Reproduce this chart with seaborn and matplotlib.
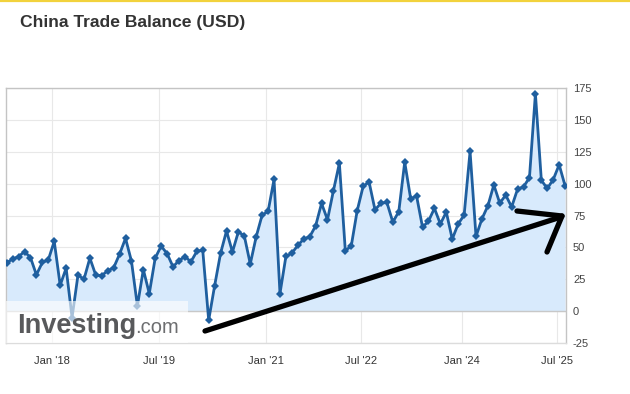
import matplotlib
matplotlib.use("Agg")
import matplotlib.pyplot as plt
import seaborn as sns
import pandas as pd
import numpy as np
from matplotlib.lines import Line2D
from matplotlib.patches import Rectangle

# Monthly China trade balance (USD bn), Apr 2017 .. Jul 2025 (one point per release)
bal_2017 = [38.0, 40.8, 42.8, 46.7, 42.0, 28.5, 38.2, 40.2, 54.7]
bal_2018 = [20.3, 33.7, -5.0, 28.4, 24.9, 41.6, 28.1, 27.9, 31.7, 34.0, 44.7, 57.1]
bal_2019 = [39.2, 4.1, 32.6, 13.8, 41.7, 51.0, 45.1, 34.8, 39.7, 42.8, 38.7, 46.8, 47.7]
bal_2020 = [-7.1, 19.9, 45.3, 62.9, 46.4, 62.3, 58.9, 37.0, 58.4, 75.4, 78.2]
bal_2021 = [103.3, 13.8, 42.9, 45.5, 51.5, 56.6, 58.3, 66.8, 84.5, 71.7, 94.5]
bal_2022 = [116.0, 47.4, 51.1, 78.8, 97.9, 101.3, 79.4, 84.7, 85.2, 69.8, 78.0]
bal_2023 = [116.9, 88.2, 90.2, 65.8, 70.6, 80.6, 68.4, 77.7, 56.5, 68.4, 75.3]
bal_2024 = [125.2, 58.6, 72.4, 82.6, 99.0, 84.7, 91.0, 81.7, 95.7, 97.4, 104.8]
bal_2025 = [170.5, 102.6, 96.2, 103.2, 114.8, 98.2]

x_tick_labels = ["Jan '18", "Jul '19", "Jan '21", "Jul '22", "Jan '24", "Jul '25"]
y_ticks = [-25, 0, 25, 50, 75, 100, 125, 150, 175]

values = bal_2017 + bal_2018 + bal_2019 + bal_2020 + bal_2021 + bal_2022 + bal_2023 + bal_2024 + bal_2025
df = pd.DataFrame({"idx": np.arange(len(values)), "balance": values})

# ordinal axis tick positions (fraction of the way between releases)
x_tick_pos = [7.65, 25.65, 43.65, 59.65, 76.65, 92.65]

sns.set_theme(style="white")
plt.rcParams['font.family'] = ['Liberation Sans', 'DejaVu Sans']

W, H = 630, 394
fig = plt.figure(figsize=(W / 100, H / 100), dpi=100)
ax = fig.add_axes([6 / W, 1 - 343 / H, 560 / W, 255 / H])

line_col = "#1f5f9f"
fill_col = "#d8eafc"

ax.fill_between(df["idx"], df["balance"], 0, color=fill_col, lw=0, zorder=1)
sns.lineplot(data=df, x="idx", y="balance", ax=ax, color=line_col, lw=2.0,
             marker="D", markersize=3.6, markeredgewidth=0, zorder=3)

ax.set_xlim(-0.12, 94.15)
ax.set_ylim(-25, 175)
ax.set_xlabel("")
ax.set_ylabel("")

ax.set_yticks(y_ticks)
ax.set_yticklabels([str(v) for v in y_ticks])
ax.yaxis.tick_right()
ax.tick_params(axis="y", length=0, pad=5, labelsize=8, labelcolor="#444444")
ax.set_xticks(x_tick_pos)
ax.set_xticklabels(x_tick_labels)
ax.tick_params(axis="x", length=0, pad=9, labelsize=8, labelcolor="#333333")

ax.grid(True, color="#e8e8e8", lw=0.8, zorder=0)
ax.set_axisbelow(True)
ax.axhline(0, color="#c8c8c8", lw=1.0, zorder=2)
for side in ["left", "right", "top", "bottom"]:
    ax.spines[side].set_visible(True)
    ax.spines[side].set_color("#c4c4c4")
    ax.spines[side].set_linewidth(1.0)
ax.spines["bottom"].set_color("#dcdcdc")

# watermark overlay
ax.add_patch(Rectangle((0, 0), (188 - 6) / 560, (343 - 301) / 255, transform=ax.transAxes,
                       facecolor="white", alpha=0.62, lw=0, zorder=4))
fig.text(17 / W, 1 - 333 / H, "Investing", fontsize=19.5, fontweight="bold",
         color="#58595b", ha="left", va="baseline", zorder=5)
fig.text(135 / W, 1 - 333 / H, ".com", fontsize=14.5, color="#6d6e70",
         ha="left", va="baseline", zorder=5)

# title
fig.text(20 / W, 1 - 22 / H, "China Trade Balance (USD)", fontsize=12.6, fontweight="bold",
         color="#333333", ha="left", va="center")

# yellow top stripe
fig.add_artist(Line2D([0, 1], [1 - 0.8 / H, 1 - 0.8 / H], color="#f2d23c", lw=1.6))

# hand-drawn black arrow annotation
def px(x, y):
    return (x / W, 1 - y / H)

for (x0, y0), (x1, y1) in [((205, 331), (561, 217)), ((517, 211), (562, 216)), ((547, 252), (562, 216))]:
    a, b = px(x0, y0), px(x1, y1)
    fig.add_artist(Line2D([a[0], b[0]], [a[1], b[1]], color="black", lw=3.8,
                          solid_capstyle="round", zorder=10))

fig.savefig("out.png", dpi=100)
